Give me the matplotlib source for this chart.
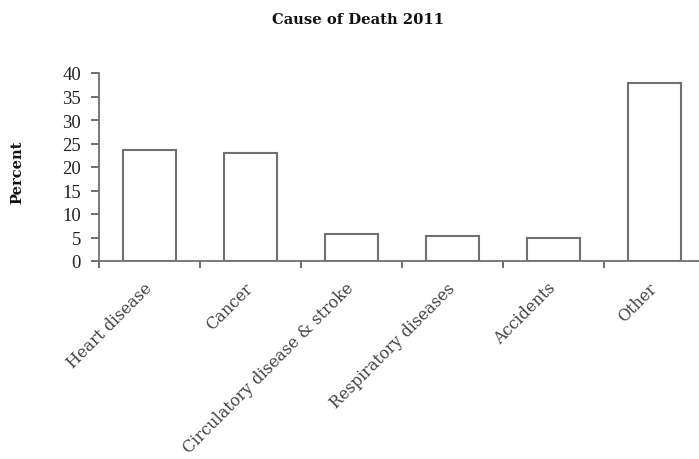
import matplotlib
matplotlib.use("Agg")
import matplotlib.pyplot as plt
from matplotlib.transforms import ScaledTranslation

categories = ["Heart disease", "Cancer", "Circulatory disease & stroke",
              "Respiratory diseases", "Accidents", "Other"]
values = [23.7, 22.9, 5.8, 5.3, 5.0, 37.9]
yticks = [0, 5, 10, 15, 20, 25, 30, 35, 40]

plt.rcParams['font.family'] = ['DejaVu Serif']

W, H = 699, 460
fig = plt.figure(figsize=(W/100, H/100), dpi=100)
ax = fig.add_axes([99/W, (H-262)/H, (705-99)/W, (262-74)/H])

x = [i + 0.5 for i in range(len(categories))]
ax.bar(x, values, width=0.52, facecolor='white', edgecolor='#707070', linewidth=1.5)

ax.set_xlim(0, 6)
ax.set_ylim(0, 40)
ax.set_yticks(yticks)
ax.set_yticklabels([str(v) for v in yticks], fontsize=13.5, color='#222222',
                   family='Liberation Serif')
ax.set_xticks(range(0, 7))
ax.set_xticklabels([])
ax.set_xticks(x, minor=True)
labels = ax.set_xticklabels(categories, minor=True, rotation=45, ha='right',
                            rotation_mode='anchor', fontsize=11.5, color='#444444')
ax.tick_params(axis='x', which='minor', length=0, pad=13)
off = ScaledTranslation(-6/100, 0, fig.dpi_scale_trans)
for lab in labels:
    lab.set_transform(lab.get_transform() + off)
ax.tick_params(axis='x', which='major', length=5, width=1.2, color='#555555', direction='out')
ax.tick_params(axis='y', length=6, width=1.2, color='#555555', direction='out', pad=7)

for s in ['top', 'right']:
    ax.spines[s].set_visible(False)
for s in ['left', 'bottom']:
    ax.spines[s].set_color('#707070')
    ax.spines[s].set_linewidth(1.3)

fig.text(358/W, 1 - 20/H, "Cause of Death 2011", ha='center', va='center',
         fontsize=10.6, fontweight='bold', color='#111111')
fig.text(17/W, 1 - 172/H, "Percent", ha='center', va='center', rotation=90,
         fontsize=10.5, fontweight='bold', color='#111111')

fig.savefig("out.png", dpi=100)
